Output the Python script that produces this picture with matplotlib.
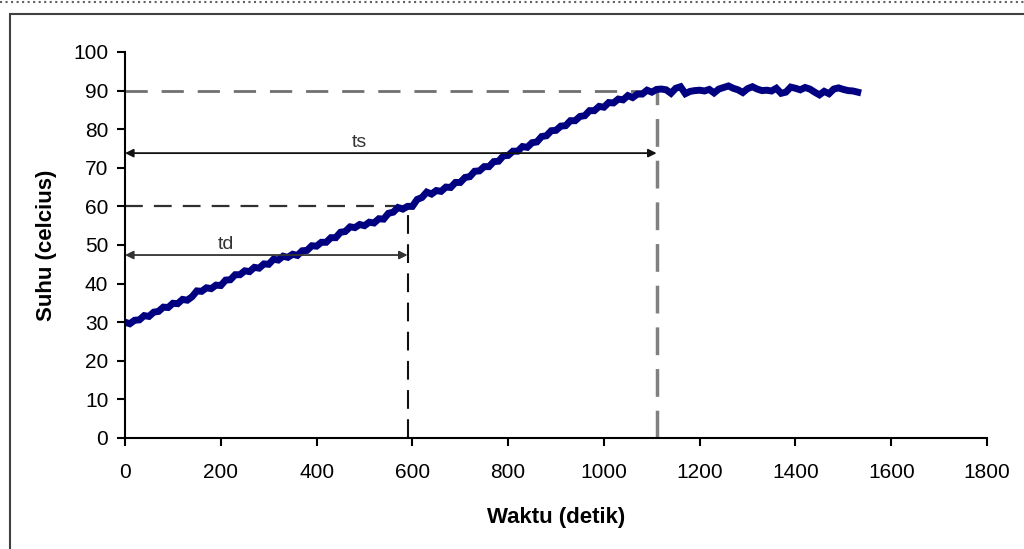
import matplotlib.pyplot as plt
from matplotlib.patches import Rectangle
from matplotlib.lines import Line2D

# temperature log, read every 10 s off the reference
waktu = list(range(0, 1540, 10))
suhu = [
    30.0, 29.6, 30.5, 30.6, 31.7, 31.5, 32.6, 32.8, 33.9, 33.8,
    34.9, 34.8, 35.9, 35.7, 36.6, 38.1, 38.0, 38.9, 38.7, 39.6,
    39.5, 40.9, 41.0, 42.3, 42.3, 43.3, 43.1, 44.2, 44.0, 45.1,
    45.0, 46.3, 46.1, 47.1, 46.8, 47.6, 47.3, 48.5, 48.6, 49.8,
    49.7, 50.7, 50.7, 51.9, 51.9, 53.3, 53.5, 54.7, 54.5, 55.3,
    55.0, 55.9, 55.7, 56.8, 56.7, 58.2, 58.5, 59.7, 59.3, 60.0,
    60.0, 61.8, 62.3, 63.7, 63.2, 64.1, 63.9, 65.0, 64.9, 66.2,
    66.2, 67.5, 67.7, 69.1, 69.2, 70.3, 70.3, 71.6, 71.7, 73.1,
    73.2, 74.3, 74.3, 75.5, 75.3, 76.5, 76.7, 78.1, 78.3, 79.6,
    79.7, 80.8, 80.9, 82.2, 82.2, 83.3, 83.5, 84.8, 84.8, 85.9,
    85.7, 86.9, 86.8, 87.8, 87.6, 88.7, 88.2, 89.1, 89.1, 90.1,
    89.6, 90.3, 90.4, 90.2, 89.3, 90.6, 91.0, 89.2, 89.8, 90.0,
    90.1, 89.9, 90.3, 89.4, 90.4, 90.8, 91.2, 90.6, 90.2, 89.5,
    90.5, 91.0, 90.4, 90.0, 90.1, 89.9, 90.6, 89.3, 89.6, 90.9,
    90.6, 90.2, 90.8, 90.4, 89.6, 88.9, 89.8, 89.2, 90.4, 90.7,
    90.3, 90.0, 89.9, 89.6,
]

# marked times (delay time / settling time) and levels
td, td_level = 590, 60
ts, ts_level = 1110, 90
td_arrow_y, ts_arrow_y = 47.4, 73.8

plt.rcParams['font.family'] = ['Liberation Sans', 'DejaVu Sans']

fig = plt.figure(figsize=(10.24, 5.49), dpi=100)
ax = fig.add_axes([0.1221, 0.2022, 0.8418, 0.7031])

# outer chart frame and dotted top rule
fig.patches.append(Rectangle((10 / 1024, -0.05), 1.1, 1 - 14 / 549 + 0.05,
                             transform=fig.transFigure, fill=False,
                             edgecolor='#404040', linewidth=1.5))
fig.lines.append(Line2D([0, 1], [1 - 2 / 549] * 2, transform=fig.transFigure,
                        color='#606060', linestyle=':', linewidth=1.5))

# guide lines
ax.plot([0, ts], [ts_level, ts_level], color='#707070', lw=2, dashes=(8, 5))
ax.plot([ts, ts], [0, ts_level], color='#808080', lw=2.5, dashes=(8, 4))
ax.plot([0, td], [td_level, td_level], color='#303030', lw=1.6, dashes=(8, 5))
ax.plot([td, td], [0, td_level], color='#101010', lw=1.5, dashes=(9, 5))

ax.plot(waktu, suhu, color='#000080', lw=5, solid_joinstyle='miter')

ax.annotate('', xy=(0, ts_arrow_y), xytext=(ts, ts_arrow_y),
            arrowprops=dict(arrowstyle='<|-|>', color='#111111', lw=1.3,
                            mutation_scale=12, shrinkA=0, shrinkB=0))
ax.annotate('', xy=(0, td_arrow_y), xytext=(td, td_arrow_y),
            arrowprops=dict(arrowstyle='<|-|>', color='#333333', lw=1.3,
                            mutation_scale=12, shrinkA=0, shrinkB=0))
ax.text(490, ts_arrow_y + 0.6, 'ts', fontsize=14, color='#333333',
        ha='center', va='bottom')
ax.text(210, td_arrow_y + 0.6, 'td', fontsize=14, color='#333333',
        ha='center', va='bottom')

ax.set_xlim(0, 1800)
ax.set_ylim(0, 100)
ax.set_xticks(range(0, 1801, 200))
ax.set_yticks(range(0, 101, 10))
for s in ['top', 'right']:
    ax.spines[s].set_visible(False)
for s in ['left', 'bottom']:
    ax.spines[s].set_linewidth(1.5)
ax.tick_params(direction='out', length=6, width=1.5, labelsize=15, pad=6)
ax.tick_params(axis='x', pad=12)

ax.set_xlabel('Waktu (detik)', fontsize=16, fontweight='bold', labelpad=18)
ax.set_ylabel('Suhu (celcius)', fontsize=16, fontweight='bold', labelpad=12)

fig.savefig('out.png', dpi=100)
